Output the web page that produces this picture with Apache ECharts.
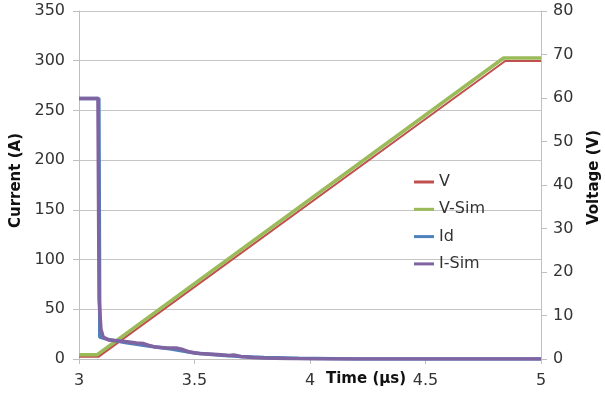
<!DOCTYPE html>
<html>
<head>
<meta charset="utf-8">
<script src="https://cdn.jsdelivr.net/npm/echarts@6/dist/echarts.min.js"></script>
<style>html,body{margin:0;padding:0;background:#fff;}#c{width:605px;height:400px;}</style>
</head>
<body>
<div id="c"></div>
<script>
// Voltage (right axis, V)
const timeV = [3, 3.084, 4.845, 5];
const valV = [0.5, 0.5, 68.5, 68.5];
const timeVSim = [3, 3.079, 4.838, 5];
const valVSim = [1.0, 1.0, 69.2, 69.2];
// Current (left axis, A)
const timeId = [3, 3.086, 3.09, 3.12, 3.2, 3.3, 3.4, 3.45, 3.5, 3.6, 3.7, 3.8, 3.9, 3.95, 4.1, 4.2, 5];
const valId = [262, 262, 22, 20, 16.5, 13, 10, 8, 6, 4, 2.5, 1.5, 1, 0.7, 0.3, 0, 0];
const timeISim = [3, 3.082, 3.087, 3.095, 3.105, 3.13, 3.2, 3.25, 3.28, 3.3, 3.33, 3.38, 3.42, 3.45, 3.48, 3.52, 3.6, 3.65, 3.67, 3.7, 3.75, 3.8, 3.9, 4.0, 4.2, 5];
const valISim = [262, 262, 60, 30, 22, 19, 17.5, 16, 15.5, 14, 12, 11, 11, 9.5, 7, 5.5, 4.5, 3.5, 4, 2.5, 1.5, 1, 0.6, 0.3, 0, 0];
const seriesNames = ['V', 'V-Sim', 'Id', 'I-Sim'];
const xTicks = [3, 3.5, 4, 4.5, 5];

const zip = (t, v) => t.map((x, i) => [x, v[i]]);
const font = 'DejaVu Sans';
const gray = '#BFBFBF';
const chart = echarts.init(document.getElementById('c'));
chart.setOption({
  animation: false,
  backgroundColor: '#fff',
  grid: { left: 79, right: 64, top: 11, bottom: 41 },
  legend: {
    data: seriesNames,
    orient: 'vertical',
    left: 414,
    top: 174,
    padding: 0,
    icon: 'rect',
    itemWidth: 20,
    itemHeight: 3,
    itemGap: 11.3,
    textStyle: { fontFamily: font, fontSize: 16, color: '#333', lineHeight: 16 }
  },
  xAxis: {
    type: 'value', min: 3, max: 5, interval: 0.5,
    axisLine: { show: true, lineStyle: { color: gray } },
    axisTick: { show: true, length: 5, lineStyle: { color: gray } },
    splitLine: { show: false },
    axisLabel: { fontFamily: font, fontSize: 16, color: '#333', margin: 14,
      formatter: v => xTicks.includes(v) ? String(v) : '' }
  },
  yAxis: [
    { type: 'value', min: 0, max: 350, interval: 50, position: 'left',
      axisLine: { show: true, lineStyle: { color: gray } },
      axisTick: { show: true, length: 6, lineStyle: { color: gray } },
      splitLine: { show: true, lineStyle: { color: '#C6C6C6', width: 1 } },
      axisLabel: { fontFamily: font, fontSize: 16, color: '#333', margin: 14 } },
    { type: 'value', min: 0, max: 80, interval: 10, position: 'right',
      axisLine: { show: true, lineStyle: { color: gray } },
      axisTick: { show: true, length: 6, lineStyle: { color: gray } },
      splitLine: { show: false },
      axisLabel: { fontFamily: font, fontSize: 16, color: '#333', margin: 12 } }
  ],
  graphic: [
    { type: 'text', left: 9, top: 133, rotation: Math.PI / 2,
      style: { text: 'Current (A)', font: 'bold 15px "DejaVu Sans"', fill: '#111' } },
    { type: 'text', left: 587, top: 130, rotation: Math.PI / 2,
      style: { text: 'Voltage (V)', font: 'bold 15px "DejaVu Sans"', fill: '#111' } },
    { type: 'text', left: 326, top: 372,
      style: { text: 'Time (µs)', font: 'bold 15px "DejaVu Sans"', fill: '#111' } }
  ],
  series: [
    { name: 'V', type: 'line', yAxisIndex: 1, data: zip(timeV, valV), showSymbol: false,
      lineStyle: { color: '#C0504D', width: 2 }, itemStyle: { color: '#C0504D' } },
    { name: 'V-Sim', type: 'line', yAxisIndex: 1, data: zip(timeVSim, valVSim), showSymbol: false,
      lineStyle: { color: '#9BBB59', width: 3.5 }, itemStyle: { color: '#9BBB59' } },
    { name: 'Id', type: 'line', yAxisIndex: 0, data: zip(timeId, valId), showSymbol: false,
      lineStyle: { color: '#4F81BD', width: 3.5 }, itemStyle: { color: '#4F81BD' } },
    { name: 'I-Sim', type: 'line', yAxisIndex: 0, data: zip(timeISim, valISim), showSymbol: false,
      lineStyle: { color: '#8064A2', width: 3.5 }, itemStyle: { color: '#8064A2' } }
  ]
});
</script>
</body>
</html>
